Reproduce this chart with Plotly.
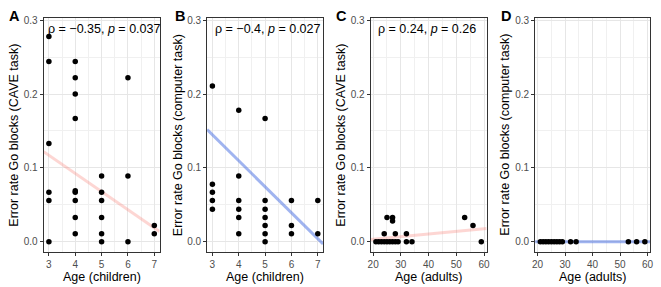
import plotly.graph_objects as go

# ---------------- data ----------------
A_age = [3, 3, 3, 3, 3, 3, 4, 4, 4, 4, 4, 4, 4, 4, 4, 5, 5, 5, 5, 5, 5, 6, 6, 6, 7, 7]
A_err = [0.278, 0.244, 0.133, 0.067, 0.056, 0.0,
         0.244, 0.222, 0.2, 0.167, 0.069, 0.067, 0.056, 0.033, 0.011,
         0.089, 0.067, 0.056, 0.033, 0.011, 0.0,
         0.222, 0.089, 0.0,
         0.022, 0.011]

B_age = [3, 3, 3, 3, 3, 4, 4, 4, 4, 4, 4, 5, 5, 5, 5, 5, 5, 5, 6, 6, 6, 7, 7]
B_err = [0.211, 0.078, 0.067, 0.056, 0.044,
         0.178, 0.089, 0.056, 0.044, 0.033, 0.011,
         0.167, 0.056, 0.044, 0.033, 0.022, 0.011, 0.0,
         0.056, 0.022, 0.011,
         0.056, 0.011]

C_age = [21, 22, 23, 24, 25, 26, 27, 28, 29, 32, 34, 59, 24, 28, 32, 25, 27, 27, 53, 56]
C_err = [0, 0, 0, 0, 0, 0, 0, 0, 0, 0, 0, 0,
         0.011, 0.011, 0.011, 0.033, 0.033, 0.028, 0.033, 0.022]

D_age = [21, 22, 23, 24, 25, 26, 27, 28, 29, 32, 34, 53, 56, 59]
D_err = [0, 0, 0, 0, 0, 0, 0, 0, 0, 0, 0, 0, 0, 0]

# fitted regression lines (full panel range)
fitA_x, fitA_y = [2.8, 7.2], [0.122, 0.014]
fitB_x, fitB_y = [2.8, 7.2], [0.152, -0.003]
fitC_x, fitC_y = [19.1, 60.9], [0.003, 0.018]
fitD_x, fitD_y = [19.1, 60.9], [0.0, 0.0]

panel_letters = ["A", "B", "C", "D"]
stat_labels = ["ρ = −0.35, <i>p</i> = 0.037", "ρ = −0.4, <i>p</i> = 0.027",
               "ρ = 0.24, <i>p</i> = 0.26", ""]
x_titles = ["Age (children)", "Age (children)", "Age (adults)", "Age (adults)"]
y_titles = ["Error rate Go blocks (CAVE task)", "Error rate Go blocks (computer task)",
            "Error rate Go blocks (CAVE task)", "Error rate Go blocks (computer task)"]

# ---------------- styling ----------------
W, H = 661, 287
FONT = "Liberation Sans, Arial, Helvetica, sans-serif"
pink = "rgba(248,118,109,0.3)"
blue = "rgba(65,105,225,0.5)"

panels = [
    (A_age, A_err, fitA_x, fitA_y, pink, [2.8, 7.2], 1, 0.5),
    (B_age, B_err, fitB_x, fitB_y, blue, [2.8, 7.2], 1, 0.5),
    (C_age, C_err, fitC_x, fitC_y, pink, [19.1, 60.9], 10, 5),
    (D_age, D_err, fitD_x, fitD_y, blue, [19.1, 60.9], 10, 5),
]
xdoms_px = [(41, 158), (206, 323), (371, 488), (537, 653)]
ytop, ybot = 15, 252
ydom = [(H - ybot) / H, (H - ytop) / H]
letter_x = [4.5, 171.5, 334.5, 501]
stat_x = [43, 211.5, 376, 0]
ytitle_x = [11.7, 176.7, 341.7, 507.2]

fig = go.Figure()
layout = dict(width=W, height=H, margin=dict(l=0, r=0, t=0, b=0),
              paper_bgcolor="white", plot_bgcolor="white", showlegend=False,
              font=dict(family=FONT), annotations=[])

for i, (ax, ay, fx, fy, col, xr, dt, mdt) in enumerate(panels):
    n = i + 1
    xa = "x" if n == 1 else f"x{n}"
    ya = "y" if n == 1 else f"y{n}"
    fig.add_trace(go.Scatter(x=fx, y=fy, mode="lines", line=dict(color=col, width=3),
                             xaxis=xa, yaxis=ya, hoverinfo="skip"))
    fig.add_trace(go.Scatter(x=ax, y=ay, mode="markers",
                             marker=dict(color="black", size=5.5),
                             xaxis=xa, yaxis=ya, cliponaxis=False))
    x0, x1 = xdoms_px[i]
    common = dict(showgrid=True, gridcolor="#E6E6E6", gridwidth=1,
                  ticks="outside", ticklen=3, tickcolor="#333333", tickwidth=1,
                  tickfont=dict(size=10, color="#4D4D4D", family=FONT),
                  showline=True, mirror=True, linecolor="#333333", linewidth=1,
                  zeroline=False)
    layout[f"xaxis{'' if n == 1 else n}"] = dict(
        domain=[x0 / W, x1 / W], range=xr, dtick=dt, tick0=0, anchor=ya,
        minor=dict(dtick=mdt, showgrid=True, gridcolor="#F0F0F0", gridwidth=0.8, ticks=""),
        **common)
    layout[f"yaxis{'' if n == 1 else n}"] = dict(
        domain=ydom, range=[-0.0143, 0.3031], dtick=0.1, tick0=0, tickformat=".1f",
        anchor=xa,
        minor=dict(dtick=0.05, showgrid=True, gridcolor="#F0F0F0", gridwidth=0.8, ticks=""),
        **common)
    ann = layout["annotations"]
    ann.append(dict(text=f"<b>{panel_letters[i]}</b>", x=letter_x[i] / W, y=(H - 13.3) / H,
                    xref="paper", yref="paper", xanchor="left", yanchor="middle",
                    showarrow=False, font=dict(size=14.5, color="black", family=FONT)))
    if stat_labels[i]:
        ann.append(dict(text=stat_labels[i], x=stat_x[i] / W, y=(H - 26) / H,
                        xref="paper", yref="paper", xanchor="left", yanchor="middle",
                        showarrow=False, font=dict(size=12.5, color="black", family=FONT)))
    ann.append(dict(text=x_titles[i], x=(x0 + x1) / 2 / W, y=(H - 276.5) / H,
                    xref="paper", yref="paper", xanchor="center", yanchor="middle",
                    showarrow=False, font=dict(size=12.5, color="black", family=FONT)))
    ann.append(dict(text=y_titles[i], x=ytitle_x[i] / W, y=(H - (ytop + ybot) / 2) / H,
                    xref="paper", yref="paper", xanchor="center", yanchor="middle",
                    textangle=-90, showarrow=False,
                    font=dict(size=12.5, color="black", family=FONT)))

fig.update_layout(**layout)
fig.write_html("out.html")
